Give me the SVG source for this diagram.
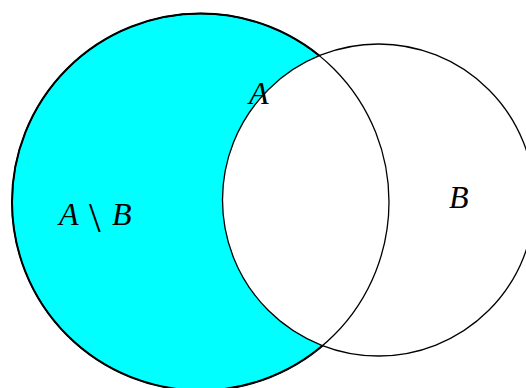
<svg xmlns="http://www.w3.org/2000/svg" width="526" height="388" viewBox="0 0 526 388">
<style>
.lbl{font-family:"Liberation Serif","DejaVu Serif",serif;font-style:italic;font-size:32px;fill:#000}
.bs{font-family:"Liberation Serif","DejaVu Serif",serif;font-style:normal;font-size:42px}
.ln{fill:none;stroke:#000;stroke-width:1.3}
</style>
<rect width="526" height="388" fill="#fff"/>
<g id="regionA">
<circle cx="200.5" cy="202" r="188.5" fill="#00ffff" stroke="#000" stroke-width="2"/>
</g>
<g id="regionB">
<circle cx="378.5" cy="200" r="156" fill="#fff"/>
</g>
<g id="outlines">
<circle class="ln" cx="200.5" cy="202" r="188.5"/>
<circle class="ln" cx="378.5" cy="200" r="156"/>
</g>
<g id="labels">
<text class="lbl" y="225"><tspan x="59">A</tspan><tspan class="bs" x="89" y="232">\</tspan><tspan x="112" y="225">B</tspan></text>
<text class="lbl" x="249" y="104">A</text>
<text class="lbl" x="449" y="208">B</text>
</g>
</svg>
